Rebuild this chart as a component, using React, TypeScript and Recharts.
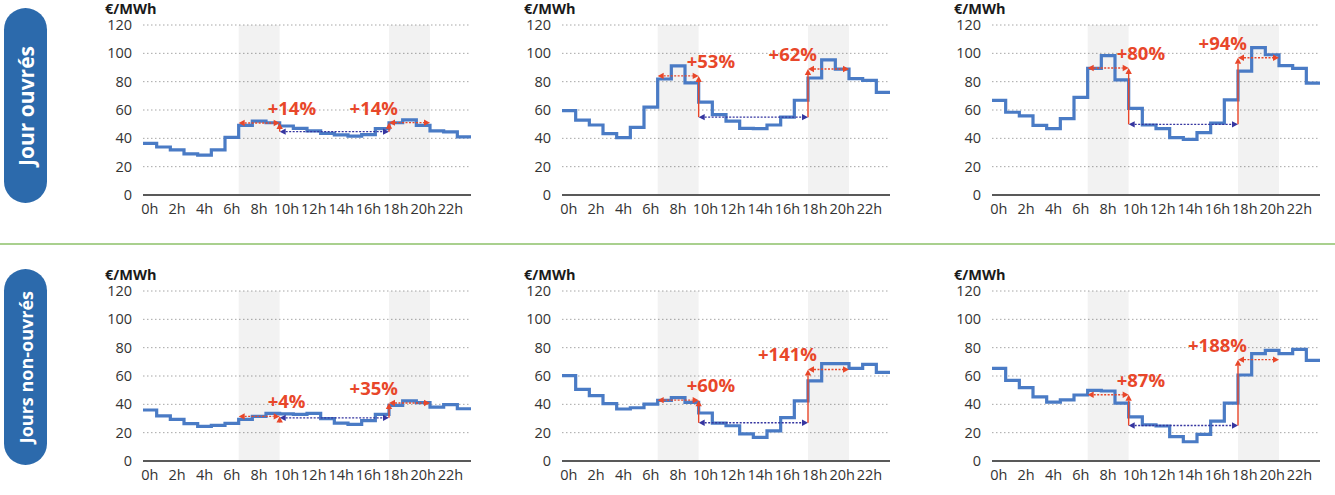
import React from 'react'
import {
  ComposedChart,
  Line,
  XAxis,
  YAxis,
  CartesianGrid,
  ReferenceArea,
  ReferenceLine,
  ReferenceDot,
} from 'recharts'

// tick labels
const hourLabels = ['0h', '2h', '4h', '6h', '8h', '10h', '12h', '14h', '16h', '18h', '20h', '22h']
const yTicks = [0, 20, 40, 60, 80, 100, 120]

// hourly prices €/MWh, working days
const ouvres1 = [36.5, 33.9, 31.8, 29, 28.2, 31.8, 40.7, 49.2, 52.2, 51, 48.7, 47, 45.2, 43.5, 42.4, 41.6, 42.6, 46.8, 51, 53, 49.2, 45.2, 44.5, 41]
const ouvres2 = [59.6, 52.9, 49.4, 43.3, 40.5, 47.7, 62, 81.9, 91.2, 79.1, 65.5, 56.8, 52.2, 47, 46.8, 49.4, 55, 66.9, 82.6, 95.4, 88.9, 82.1, 80.9, 72.5]
const ouvres3 = [66.8, 58.4, 55.8, 49.2, 46.8, 53.9, 68.9, 89.4, 98.4, 81.2, 61.2, 49.4, 46.8, 40.5, 39.3, 44, 50.8, 67.1, 87.5, 104, 99, 91.3, 89.4, 79]

// hourly prices €/MWh, non-working days
const nonOuvres1 = [36, 31.8, 29.4, 26.4, 24.5, 25.2, 26.6, 29.4, 31.5, 33.6, 33.2, 32.9, 33.6, 29.9, 26.8, 25.9, 28.5, 32.9, 39.3, 42.4, 41.2, 38.1, 39.8, 36.9]
const nonOuvres2 = [60.2, 50.6, 46.1, 40.5, 36.7, 37.6, 40.2, 42.8, 44.7, 41.4, 33.9, 26.8, 24.9, 19.1, 16.7, 21.2, 30.6, 42.4, 56.5, 68.7, 68.7, 65.4, 68.2, 62.6]
const nonOuvres3 = [65.4, 56.9, 51.8, 45.2, 41.6, 43.1, 46.6, 49.9, 49.4, 40.9, 31.1, 25.6, 24.7, 17.2, 13.6, 18.8, 28.2, 40.9, 60.7, 75.8, 78.1, 75.8, 78.8, 71.1]

// peak vs midday spread labels
const morningLabels = ['+14%', '+53%', '+80%', '+4%', '+60%', '+87%']
const eveningLabels = ['+14%', '+62%', '+94%', '+35%', '+141%', '+188%']

// hour windows
const morningWindow = [7, 10]
const middayWindow = [10, 18]
const eveningWindow = [18, 21]

const RED = '#E8472A'
const NAVY = '#3535A0'
const BLUE = '#4A7BC5'
const FONT = '"Open Sans", sans-serif'

const mean = (a: number[]) => a.reduce((s, x) => s + x, 0) / a.length

function arrowShape(color: string, dashed: boolean, both: boolean) {
  return (p: any) => {
    const { x1, y1, x2, y2 } = p
    const dx = x2 - x1
    const dy = y2 - y1
    const len = Math.hypot(dx, dy) || 1
    const ux = dx / len
    const uy = dy / len
    const hl = 6
    const hw = 3.2
    const head = (tx: number, ty: number, ex: number, ey: number) => {
      const bx = tx - ex * hl
      const by = ty - ey * hl
      return `${tx},${ty} ${bx - ey * hw},${by + ex * hw} ${bx + ey * hw},${by - ex * hw}`
    }
    const sx = both ? x1 + ux * hl : x1
    const sy = both ? y1 + uy * hl : y1
    return (
      <g>
        <line
          x1={sx}
          y1={sy}
          x2={x2 - ux * hl}
          y2={y2 - uy * hl}
          stroke={color}
          strokeWidth={1.4}
          strokeDasharray={dashed ? '2 1.5' : undefined}
        />
        {both && <polygon points={head(x1, y1, -ux, -uy)} fill={color} />}
        <polygon points={head(x2, y2, ux, uy)} fill={color} />
      </g>
    )
  }
}

const pctText = (label: string, dx: number, anchor: 'start' | 'end') => (p: any) => (
  <text
    x={p.cx + dx}
    y={p.cy - 8}
    textAnchor={anchor}
    fill={RED}
    fontFamily={FONT}
    fontWeight={700}
    fontSize={18.5}
  >
    {label}
  </text>
)

const unitLabel = (props: any) => {
  const vb = props.viewBox
  return (
    <text x={vb.x + 2} y={vb.y - 11.5} fontFamily={FONT} fontWeight={700} fontSize={14.5} fill="#1a1a1a">
      €/MWh
    </text>
  )
}

function Panel({ values, idx, left, top }: { values: number[]; idx: number; left: number; top: number }) {
  const data = [...values.map((v, i) => ({ h: i, v })), { h: values.length, v: values[values.length - 1] }]
  const morning = mean(values.slice(morningWindow[0], morningWindow[1]))
  const midday = mean(values.slice(middayWindow[0], middayWindow[1]))
  const evening = mean(values.slice(eveningWindow[0], eveningWindow[1]))
  const xTicks = hourLabels.map((_, i) => i * 2 + 0.5)
  const tickStyle = { fontFamily: FONT, fontSize: 14.5, fill: '#333' }
  return (
    <div style={{ position: 'absolute', left, top }}>
      <ComposedChart width={380} height={225} data={data} margin={{ top: 25, right: 7, left: 5, bottom: 0 }}>
        <ReferenceArea x1={morningWindow[0]} x2={morningWindow[1]} y1={0} y2={120} fill="#000" fillOpacity={0.05} stroke="none" />
        <ReferenceArea x1={eveningWindow[0]} x2={eveningWindow[1]} y1={0} y2={120} fill="#000" fillOpacity={0.05} stroke="none" />
        <CartesianGrid vertical={false} stroke="#A6A6A6" strokeDasharray="1.5 2.5" />
        <XAxis
          dataKey="h"
          type="number"
          domain={[0, 24]}
          ticks={xTicks}
          interval={0}
          tickFormatter={(v: number) => hourLabels[Math.round((v - 0.5) / 2)]}
          tickLine={false}
          tickSize={6}
          tickMargin={3}
          axisLine={{ stroke: '#595959', strokeWidth: 2 }}
          tick={tickStyle}
          height={30}
        />
        <YAxis
          domain={[0, 120]}
          ticks={yTicks}
          interval={0}
          axisLine={false}
          tickLine={false}
          tickSize={6}
          tickMargin={5}
          width={40}
          tick={tickStyle}
          label={unitLabel}
        />
        <Line
          dataKey="v"
          type="stepAfter"
          stroke={BLUE}
          strokeWidth={3.2}
          dot={false}
          activeDot={false}
          isAnimationActive={false}
        />
        <ReferenceLine
          segment={[{ x: morningWindow[0], y: morning }, { x: morningWindow[1], y: morning }]}
          shape={arrowShape(RED, true, true)}
        />
        <ReferenceLine
          segment={[{ x: middayWindow[0], y: midday }, { x: middayWindow[1], y: midday }]}
          shape={arrowShape(NAVY, true, true)}
        />
        <ReferenceLine
          segment={[{ x: eveningWindow[0], y: evening }, { x: eveningWindow[1], y: evening }]}
          shape={arrowShape(RED, true, true)}
        />
        <ReferenceLine
          segment={[{ x: middayWindow[0], y: midday }, { x: middayWindow[0], y: morning }]}
          shape={arrowShape(RED, false, false)}
        />
        <ReferenceLine
          segment={[{ x: middayWindow[1], y: midday }, { x: middayWindow[1], y: evening }]}
          shape={arrowShape(RED, false, false)}
        />
        <ReferenceDot x={morningWindow[1]} y={morning} r={1} shape={pctText(morningLabels[idx], -12, 'start')} />
        <ReferenceDot x={eveningWindow[0]} y={evening} r={1} shape={pctText(eveningLabels[idx], 9, 'end')} />
      </ComposedChart>
    </div>
  )
}

const pill = (top: number, height: number, text: string, size: number) => (
  <div
    style={{
      position: 'absolute',
      left: 4,
      top,
      width: 43,
      height,
      borderRadius: 22,
      background: '#2C6AAC',
      display: 'flex',
      alignItems: 'center',
      justifyContent: 'center',
    }}
  >
    <span
      style={{
        writingMode: 'vertical-rl',
        transform: 'rotate(180deg)',
        color: '#fff',
        fontFamily: FONT,
        fontWeight: 700,
        fontSize: size,
        whiteSpace: 'nowrap',
      }}
    >
      {text}
    </span>
  </div>
)

export default function App() {
  const plotLefts = [143, 562, 992]
  const plotTops = [25, 291]
  const rows = [
    [ouvres1, ouvres2, ouvres3],
    [nonOuvres1, nonOuvres2, nonOuvres3],
  ]
  return (
    <div style={{ position: 'fixed', left: 0, top: 0, width: 1335, height: 495, background: '#fff', overflow: 'hidden' }}>
      {pill(8, 195, 'Jour ouvrés', 21)}
      {pill(269, 196, 'Jours non-ouvrés', 18)}
      <div style={{ position: 'absolute', left: 0, top: 243, width: 1335, height: 1.5, background: '#A9D08E' }} />
      {rows.map((row, r) =>
        row.map((values, c) => (
          <Panel key={`${r}-${c}`} values={values} idx={r * 3 + c} left={plotLefts[c] - 45} top={plotTops[r] - 25} />
        ))
      )}
    </div>
  )
}
